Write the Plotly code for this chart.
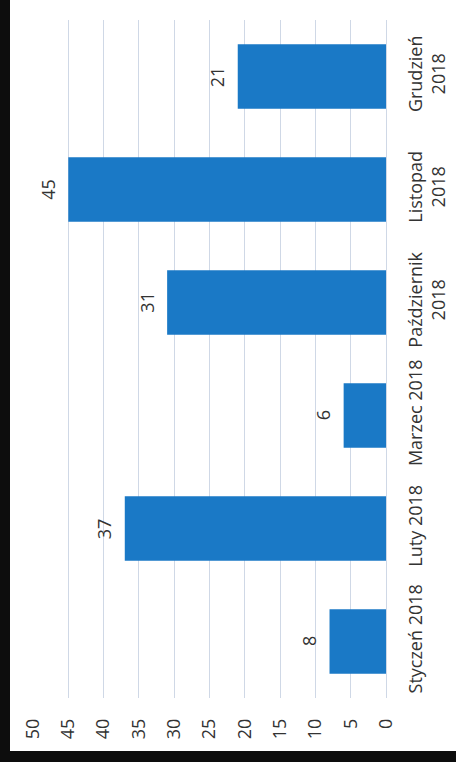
import plotly.graph_objects as go

categories = ["Styczeń 2018", "Luty 2018", "Marzec 2018",
              "Październik<br>2018", "Listopad<br>2018", "Grudzień<br>2018"]
values = [8, 37, 6, 31, 45, 21]
value_ticks = [0, 5, 10, 15, 20, 25, 30, 35, 40, 45, 50]

FONT = "Open Sans"
TXT = "#333333"
FS = 18

fig = go.Figure()
fig.add_trace(go.Bar(
    x=values, y=categories, orientation="h",
    marker=dict(color="#1a79c6", line=dict(width=0)),
    hoverinfo="skip",
))

for v, c in zip(values, categories):
    fig.add_annotation(x=v, y=c, text=str(v), showarrow=False,
                       textangle=-90, xshift=-21,
                       font=dict(family=FONT, size=FS, color=TXT))

# photo frame (black edges)
fig.add_shape(type="rect", xref="paper", yref="paper",
              x0=-0.2, x1=(10 - 33) / 353, y0=-0.2, y1=1.1,
              fillcolor="#0d0d0d", line=dict(width=0), layer="above")
fig.add_shape(type="rect", xref="paper", yref="paper",
              x0=-0.2, x1=1.3, y0=-0.2, y1=(698 - 751) / 678,
              fillcolor="#0d0d0d", line=dict(width=0), layer="above")

fig.update_layout(
    width=456, height=762,
    margin=dict(l=33, r=70, t=20, b=64, autoexpand=False),
    paper_bgcolor="white", plot_bgcolor="white",
    showlegend=False, bargap=0.43,
    font=dict(family=FONT, size=FS, color=TXT),
    xaxis=dict(range=[50, 0], tickvals=value_ticks, tickangle=-90,
               showgrid=True, gridcolor="#cfd8e6", gridwidth=1,
               zeroline=False, showline=False, ticks="",
               ticklabelstandoff=16, fixedrange=True, automargin=False,
               tickfont=dict(family=FONT, size=FS, color=TXT)),
    yaxis=dict(side="right", tickangle=-90, showgrid=False,
               zeroline=False, showline=True, linecolor="#cfd8e6",
               ticks="", ticklabelstandoff=13, fixedrange=True,
               automargin=False,
               tickfont=dict(family=FONT, size=FS, color=TXT)),
)

fig.write_html(
    "out.html",
    config={"displayModeBar": False},
    post_script="document.body.style.margin='0';document.body.style.overflow='hidden';",
)
